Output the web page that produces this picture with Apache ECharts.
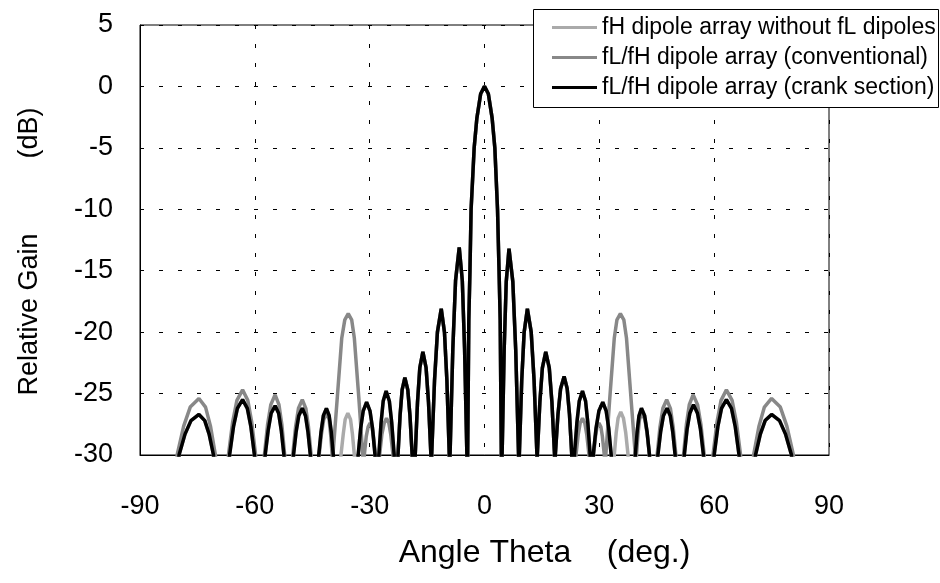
<!DOCTYPE html>
<html>
<head>
<meta charset="utf-8">
<script src="https://cdn.jsdelivr.net/npm/echarts@6/dist/echarts.min.js"></script>
<style>
html,body{margin:0;padding:0;background:#fff;}
#chart{width:940px;height:583px;}
</style>
</head>
<body>
<div id="chart"></div>
<script>
// ---- data ----
var xTicks = [-90, -60, -30, 0, 30, 60, 90];
var yTicks = [-30, -25, -20, -15, -10, -5, 0, 5];

var seriesNames = [
  'fH dipole array without fL dipoles',
  'fL/fH dipole array (conventional)',
  'fL/fH dipole array (crank section)'
];

// fL/fH dipole array (crank section)
var angleCrank = [
  -81,
  -79.8,-78.24,-76.68,-74.6,-73.08,-71.94,-70.8, -68.7,
  -66.6,-65.58,-64.56,-63.2,-61.96,-61.03,-60.1, -58.7,
  -57.3,-56.52,-55.74,-54.7,-53.78,-53.09,-52.4, -50.9,
  -49.9,-49.21,-48.52,-47.6,-46.76,-46.13,-45.5, -44.4,
  -43.3,-42.7,-42.1,-41.3,-40.58,-40.04,-39.5, -36.2,
  -33.0,-32.34,-31.68,-30.8,-29.92,-29.26,-28.6, -28.1,
  -27.6,-27.03,-26.46,-25.7,-24.86,-24.23,-23.6, -23.1,
  -22.6,-22.06,-21.52,-20.8,-20.04,-19.47,-18.9, -18.5,
  -18.1,-17.5,-16.9,-16.1,-15.26,-14.63,-14.0, -13.9,
  -13.8,-13.05,-12.3,-11.3,-10.46,-9.83,-9.2, -9.1,
  -9.0,-8.28,-7.56,-6.6,-5.8,-5.2,-4.6, -4.5,
  -4.4,-4.1,-3.8,-3.5,-2.7,-2.0,-1.0,0,1.0,2.0,2.7,3.4,3.8,4.1,4.4, 4.5,
  4.6,5.14,5.68,6.4,7.4,8.15,8.9, 9.0,
  9.1,9.73,10.36,11.2,12.2,12.95,13.7, 13.75,
  13.8,14.46,15.12,16.0,16.92,17.61,18.3, 18.4,
  18.5,19.19,19.88,20.8,21.6,22.2,22.8, 23.15,
  23.5,24.13,24.76,25.6,26.4,27.0,27.6, 28.0,
  28.4,29.15,29.9,30.9,31.78,32.44,33.1, 36.2,
  39.4,39.88,40.36,41.0,41.84,42.47,43.1, 44.2,
  45.3,46.02,46.74,47.7,48.54,49.17,49.8, 51.0,
  52.2,52.92,53.64,54.6,55.64,56.42,57.2, 58.6,
  60.0,60.96,61.92,63.2,64.52,65.51,66.5, 68.6,
  70.8,72.06,73.32,75.0,77.08,78.64,80.2,
  81
];
var gainCrank = [
  -40,
  -30,-28.3,-27.2,-26.7,-27.2,-28.3,-30, -45,
  -30,-27.7,-26.2,-25.5,-26.2,-27.7,-30, -45,
  -30,-28.0,-26.6,-26.0,-26.6,-28.0,-30, -45,
  -30,-28.1,-26.8,-26.2,-26.8,-28.1,-30, -45,
  -30,-28.1,-26.8,-26.2,-26.8,-28.1,-30, -45,
  -30,-27.8,-26.4,-25.7,-26.4,-27.8,-30, -45,
  -30,-27.4,-25.6,-24.8,-25.6,-27.4,-30, -45,
  -30,-26.8,-24.7,-23.7,-24.7,-26.8,-30, -45,
  -30,-25.7,-22.9,-21.6,-22.9,-25.7,-30, -45,
  -30,-23.9,-20.0,-18.1,-20.0,-23.9,-30, -45,
  -30,-21.4,-15.8,-13.1,-15.8,-21.4,-30, -45,
  -30,-19,-15,-10,-5,-2.6,-0.6,0,-0.6,-2.6,-5,-10,-15,-19,-30, -45,
  -30,-21.4,-15.9,-13.2,-15.9,-21.4,-30, -45,
  -30,-23.9,-20.0,-18.1,-20.0,-23.9,-30, -45,
  -30,-25.7,-22.9,-21.6,-22.9,-25.7,-30, -45,
  -30,-26.7,-24.6,-23.6,-24.6,-26.7,-30, -45,
  -30,-27.4,-25.6,-24.8,-25.6,-27.4,-30, -45,
  -30,-27.8,-26.4,-25.7,-26.4,-27.8,-30, -45,
  -30,-28.1,-26.8,-26.2,-26.8,-28.1,-30, -45,
  -30,-28.1,-26.8,-26.2,-26.8,-28.1,-30, -45,
  -30,-27.9,-26.6,-25.9,-26.6,-27.9,-30, -45,
  -30,-27.7,-26.2,-25.5,-26.2,-27.7,-30, -45,
  -30,-28.3,-27.2,-26.7,-27.2,-28.3,-30,
  -40
];

// fL/fH dipole array (conventional)
var angleConv = [
  -81.2,
  -80.3,-78.59,-76.88,-74.6,-72.88,-71.59,-70.3, -68.5,
  -66.9,-65.79,-64.68,-63.2,-61.84,-60.82,-59.8, -58.8,
  -57.5,-56.66,-55.82,-54.7,-53.7,-52.95,-52.2, -51.1,
  -50.1,-49.35,-48.6,-47.6,-46.68,-45.99,-45.3, -44.3,
  -43.2,-42.6,-42.0,-41.2,-40.6,-40.2,-39.8, -39.7,
  -39.6,-38.5,-37.9,-37.3,-36.5,-35.6,-34.7,-34.0,-33.4,-32.8,-31.8, -31.6,
  -31.4,-30.9,-30.4,-29.9,-29.4,-29.0,-28.5, -28.0,
  -27.4,-26.8,-26.2,-25.6,-25.0,-24.5,-23.9, -23.2,
  -22.6,-22.06,-21.52,-20.8,-20.04,-19.47,-18.9, -18.5,
  -18.1,-17.5,-16.9,-16.1,-15.26,-14.63,-14.0, -13.9,
  -13.8,-13.05,-12.3,-11.3,-10.46,-9.83,-9.2, -9.1,
  -9.0,-8.28,-7.56,-6.6,-5.8,-5.2,-4.6, -4.5,
  -4.4,-4.1,-3.8,-3.5,-2.7,-2.0,-1.0,0,1.0,2.0,2.7,3.4,3.8,4.1,4.4, 4.5,
  4.6,5.14,5.68,6.4,7.4,8.15,8.9, 9.0,
  9.1,9.73,10.36,11.2,12.2,12.95,13.7, 13.75,
  13.8,14.46,15.12,16.0,16.92,17.61,18.3, 18.4,
  18.5,19.19,19.88,20.8,21.6,22.2,22.8, 23.2,
  23.9,24.5,25.0,25.6,26.2,26.7,27.3, 27.9,
  28.5,29.0,29.4,29.9,30.4,30.8,31.3, 31.5,
  31.7,32.7,33.3,33.9,34.6,35.5,36.4,37.1,37.7,38.3,39.4, 39.55,
  39.7,40.1,40.5,41.1,41.9,42.5,43.1, 44.1,
  45.1,45.85,46.6,47.6,48.56,49.28,50.0, 51.0,
  52.0,52.75,53.5,54.5,55.66,56.53,57.4, 58.5,
  59.7,60.75,61.8,63.2,64.68,65.79,66.9, 68.6,
  70.3,71.71,73.12,75.0,77.28,78.99,80.7,
  81.2
];
var gainConv = [
  -40,
  -30,-27.65,-26.1,-25.4,-26.1,-27.65,-30, -45,
  -30,-27.3,-25.55,-24.7,-25.55,-27.3,-30, -45,
  -30,-27.5,-25.9,-25.1,-25.9,-27.5,-30, -45,
  -30,-27.7,-26.2,-25.5,-26.2,-27.7,-30, -45,
  -30,-28.3,-27.1,-26.6,-27.1,-28.3,-30, -40,
  -30,-25.5,-23,-20.5,-19.0,-18.5,-19.0,-20.5,-23,-25.5,-30, -40,
  -30,-28.5,-27.7,-27.4,-27.7,-28.5,-30, -45,
  -30,-28.3,-27.4,-27.0,-27.4,-28.3,-30, -45,
  -30,-26.8,-24.7,-23.7,-24.7,-26.8,-30, -45,
  -30,-25.7,-22.9,-21.6,-22.9,-25.7,-30, -45,
  -30,-23.9,-20.0,-18.1,-20.0,-23.9,-30, -45,
  -30,-21.4,-15.8,-13.1,-15.8,-21.4,-30, -45,
  -30,-19,-15,-10,-5,-2.6,-0.6,0,-0.6,-2.6,-5,-10,-15,-19,-30, -45,
  -30,-21.4,-15.9,-13.2,-15.9,-21.4,-30, -45,
  -30,-23.9,-20.0,-18.1,-20.0,-23.9,-30, -45,
  -30,-25.7,-22.9,-21.6,-22.9,-25.7,-30, -45,
  -30,-26.7,-24.6,-23.6,-24.6,-26.7,-30, -45,
  -30,-28.3,-27.4,-27.0,-27.4,-28.3,-30, -45,
  -30,-28.5,-27.7,-27.4,-27.7,-28.5,-30, -40,
  -30,-25.5,-23,-20.5,-19.0,-18.5,-19.0,-20.5,-23,-25.5,-30, -40,
  -30,-28.3,-27.1,-26.6,-27.1,-28.3,-30, -45,
  -30,-27.7,-26.2,-25.5,-26.2,-27.7,-30, -45,
  -30,-27.5,-25.9,-25.1,-25.9,-27.5,-30, -45,
  -30,-27.3,-25.55,-24.7,-25.55,-27.3,-30, -45,
  -30,-27.65,-26.1,-25.4,-26.1,-27.65,-30,
  -40
];

// fH dipole array without fL dipoles
var angleNoFL = [
  -81,
  -79.8,-78.24,-76.68,-74.6,-73.08,-71.94,-70.8, -68.7,
  -66.6,-65.58,-64.56,-63.2,-61.96,-61.03,-60.1, -58.7,
  -57.3,-56.52,-55.74,-54.7,-53.78,-53.09,-52.4, -50.9,
  -49.9,-49.21,-48.52,-47.6,-46.76,-46.13,-45.5, -44.4,
  -43.3,-42.7,-42.1,-41.3,-40.58,-40.04,-39.5, -38.5,
  -37.5,-36.9,-36.4,-35.7,-35.0,-34.5,-34.0, -33.5,
  -33.0,-32.34,-31.68,-30.8,-29.92,-29.26,-28.6, -28.1,
  -27.6,-27.03,-26.46,-25.7,-24.86,-24.23,-23.6, -23.1,
  -22.6,-22.06,-21.52,-20.8,-20.04,-19.47,-18.9, -18.5,
  -18.1,-17.5,-16.9,-16.1,-15.26,-14.63,-14.0, -13.9,
  -13.8,-13.05,-12.3,-11.3,-10.46,-9.83,-9.2, -9.1,
  -9.0,-8.28,-7.56,-6.6,-5.8,-5.2,-4.6, -4.5,
  -4.4,-4.1,-3.8,-3.5,-2.7,-2.0,-1.0,0,1.0,2.0,2.7,3.4,3.8,4.1,4.4, 4.5,
  4.6,5.14,5.68,6.4,7.4,8.15,8.9, 9.0,
  9.1,9.73,10.36,11.2,12.2,12.95,13.7, 13.75,
  13.8,14.46,15.12,16.0,16.92,17.61,18.3, 18.4,
  18.5,19.19,19.88,20.8,21.6,22.2,22.8, 23.15,
  23.5,24.13,24.76,25.6,26.4,27.0,27.6, 28.0,
  28.4,29.15,29.9,30.9,31.78,32.44,33.1, 33.5,
  33.9,34.4,34.9,35.6,36.3,36.9,37.5, 38.5,
  39.4,39.88,40.36,41.0,41.84,42.47,43.1, 44.2,
  45.3,46.02,46.74,47.7,48.54,49.17,49.8, 51.0,
  52.2,52.92,53.64,54.6,55.64,56.42,57.2, 58.6,
  60.0,60.96,61.92,63.2,64.52,65.51,66.5, 68.6,
  70.8,72.06,73.32,75.0,77.08,78.64,80.2,
  81
];
var gainNoFL = [
  -40,
  -30,-28.3,-27.2,-26.7,-27.2,-28.3,-30, -45,
  -30,-27.7,-26.2,-25.5,-26.2,-27.7,-30, -45,
  -30,-28.0,-26.6,-26.0,-26.6,-28.0,-30, -45,
  -30,-28.1,-26.8,-26.2,-26.8,-28.1,-30, -45,
  -30,-28.1,-26.8,-26.2,-26.8,-28.1,-30, -45,
  -30,-28.3,-27.1,-26.6,-27.1,-28.3,-30, -45,
  -30,-27.8,-26.4,-25.7,-26.4,-27.8,-30, -45,
  -30,-27.4,-25.6,-24.8,-25.6,-27.4,-30, -45,
  -30,-26.8,-24.7,-23.7,-24.7,-26.8,-30, -45,
  -30,-25.7,-22.9,-21.6,-22.9,-25.7,-30, -45,
  -30,-23.9,-20.0,-18.1,-20.0,-23.9,-30, -45,
  -30,-21.4,-15.8,-13.1,-15.8,-21.4,-30, -45,
  -30,-19,-15,-10,-5,-2.6,-0.6,0,-0.6,-2.6,-5,-10,-15,-19,-30, -45,
  -30,-21.4,-15.9,-13.2,-15.9,-21.4,-30, -45,
  -30,-23.9,-20.0,-18.1,-20.0,-23.9,-30, -45,
  -30,-25.7,-22.9,-21.6,-22.9,-25.7,-30, -45,
  -30,-26.7,-24.6,-23.6,-24.6,-26.7,-30, -45,
  -30,-27.4,-25.6,-24.8,-25.6,-27.4,-30, -45,
  -30,-27.8,-26.4,-25.7,-26.4,-27.8,-30, -45,
  -30,-28.2,-27.0,-26.5,-27.0,-28.2,-30, -45,
  -30,-28.1,-26.8,-26.2,-26.8,-28.1,-30, -45,
  -30,-28.1,-26.8,-26.2,-26.8,-28.1,-30, -45,
  -30,-27.9,-26.6,-25.9,-26.6,-27.9,-30, -45,
  -30,-27.7,-26.2,-25.5,-26.2,-27.7,-30, -45,
  -30,-28.3,-27.2,-26.7,-27.2,-28.3,-30,
  -40
];

function pairs(a, g) {
  var out = [];
  for (var i = 0; i < a.length; i++) out.push([a[i], g[i]]);
  return out;
}

var FONT = '"Liberation Sans", Arial, sans-serif';
var chart = echarts.init(document.getElementById('chart'), null, {renderer: 'canvas'});

chart.setOption({
  animation: false,
  backgroundColor: '#ffffff',
  textStyle: {fontFamily: FONT},
  grid: {
    left: 140, top: 25, width: 689, height: 430,
    show: true, borderColor: '#000', borderWidth: 1, backgroundColor: 'transparent'
  },
  graphic: [{
    type: 'rect', z: 3, silent: true,
    shape: {x: 533.5, y: 9.5, width: 405, height: 98},
    style: {fill: '#fff', stroke: '#000', lineWidth: 1}
  }],
  legend: {
    orient: 'vertical',
    left: 533, top: 9,
    padding: [7, 12, 7, 19],
    itemGap: 7,
    itemWidth: 45, itemHeight: 3,
    icon: 'rect',
    backgroundColor: 'transparent',
    borderWidth: 0,
    textStyle: {fontFamily: FONT, fontSize: 23, color: '#000'},
    data: seriesNames
  },
  xAxis: {
    type: 'value', min: xTicks[0], max: xTicks[xTicks.length - 1], interval: 30,
    name: 'Angle Theta    (deg.)',
    nameLocation: 'middle', nameGap: 82,
    nameTextStyle: {fontFamily: FONT, fontSize: 32, color: '#000', padding: [0, 0, 0, 120]},
    axisLine: {show: true, onZero: false, lineStyle: {color: '#000', width: 1}},
    axisTick: {show: false},
    axisLabel: {fontFamily: FONT, fontSize: 27, color: '#000', margin: 38},
    splitLine: {show: true, lineStyle: {color: '#000', type: [4, 15], width: 1}}
  },
  yAxis: {
    type: 'value', min: yTicks[0], max: yTicks[yTicks.length - 1], interval: 5,
    name: 'Relative Gain          (dB)',
    nameLocation: 'middle', nameGap: 97, nameRotate: 90,
    nameTextStyle: {fontFamily: FONT, fontSize: 27, color: '#000', padding: [0, 23, 0, 0]},
    axisLine: {show: true, onZero: false, lineStyle: {color: '#000', width: 1}},
    axisTick: {show: false},
    axisLabel: {fontFamily: FONT, fontSize: 27, color: '#000', margin: 27},
    splitLine: {show: true, lineStyle: {color: '#000', type: [4, 15], width: 1}}
  },
  series: [
    {
      name: seriesNames[0], type: 'line', showSymbol: false, symbol: 'none', clip: true,
      lineStyle: {color: '#aaaaaa', width: 3.5}, itemStyle: {color: '#aaaaaa'},
      data: pairs(angleNoFL, gainNoFL)
    },
    {
      name: seriesNames[1], type: 'line', showSymbol: false, symbol: 'none', clip: true,
      lineStyle: {color: '#888888', width: 3.5}, itemStyle: {color: '#888888'},
      data: pairs(angleConv, gainConv)
    },
    {
      name: seriesNames[2], type: 'line', showSymbol: false, symbol: 'none', clip: true,
      lineStyle: {color: '#000000', width: 3.5}, itemStyle: {color: '#000000'},
      data: pairs(angleCrank, gainCrank)
    }
  ]
});
</script>
</body>
</html>
